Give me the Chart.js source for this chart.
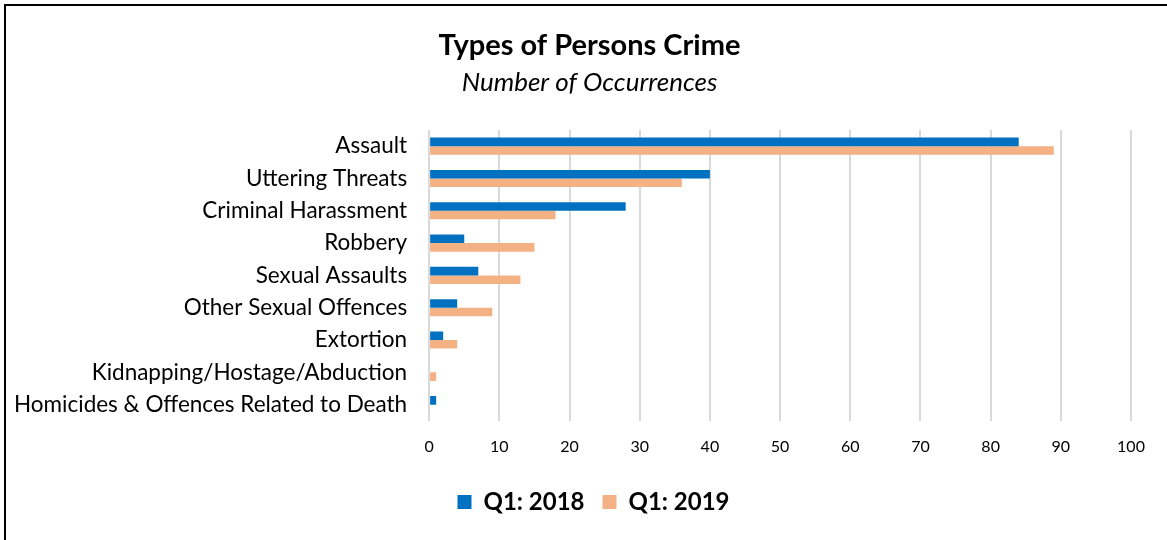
<!DOCTYPE html>
<html>
<head>
<meta charset="utf-8">
<script src="https://cdn.jsdelivr.net/npm/chart.js@4.4.1/dist/chart.umd.min.js"></script>
<style>
  html, body { margin: 0; padding: 0; background: #fff; overflow: hidden; }
  #frame {
    position: absolute; left: 4px; top: 4px;
    width: 1180px; height: 560px;
    border: 2px solid #000; box-sizing: border-box;
  }
  #wrap { position: absolute; left: 0; top: 0; width: 1167px; height: 540px; }
</style>
</head>
<body>
<div id="frame"></div>
<div id="wrap"><canvas id="myChart"></canvas></div>
<script>
const categories = [
  "Assault",
  "Uttering Threats",
  "Criminal Harassment",
  "Robbery",
  "Sexual Assaults",
  "Other Sexual Offences",
  "Extortion",
  "Kidnapping/Hostage/Abduction",
  "Homicides & Offences Related to Death",
];
const q1_2018 = [84, 40, 28, 5, 7, 4, 2, 0, 1];
const q1_2019 = [89, 36, 18, 15, 13, 9, 4, 1, 0];
const seriesNames = ["Q1: 2018", "Q1: 2019"];

const fontFamily = "Lato, 'Open Sans', sans-serif";

// the title and legend sit centred on the framed box, not on the plot
const shiftHeaders = {
  id: "shiftHeaders",
  afterLayout(chart) {
    chart.boxes.forEach((b) => {
      if (b.legendItems) {
        b.left += 28; b.right += 28;
      } else if (b.options && typeof b.options.text === "string") {
        b.left += 24; b.right += 24;
      }
    });
  },
};

const data = {
  labels: categories,
  datasets: [
    {
      label: seriesNames[0],
      data: q1_2018,
      backgroundColor: "#0070C0",
      categoryPercentage: 0.53,
      barPercentage: 1.0,
    },
    {
      label: seriesNames[1],
      data: q1_2019,
      backgroundColor: "#F4B183",
      categoryPercentage: 0.53,
      barPercentage: 1.0,
    },
  ],
};

const config = {
  type: "bar",
  data: data,
  plugins: [shiftHeaders],
  options: {
    indexAxis: "y",
    responsive: false,
    animation: false,
    layout: {
      padding: { left: 0, right: 36, top: 28, bottom: 16 },
    },
    plugins: {
      title: {
        display: true,
        text: "Types of Persons Crime",
        color: "#000",
        font: { family: fontFamily, size: 29, weight: "bold" },
        padding: { top: 0, bottom: 4 },
      },
      subtitle: {
        display: true,
        text: "Number of Occurrences",
        color: "#000",
        font: { family: fontFamily, size: 26, style: "italic" },
        padding: { top: 0, bottom: 32 },
      },
      legend: {
        position: "bottom",
        labels: {
          color: "#000",
          font: { family: fontFamily, size: 24, weight: "bold" },
          boxWidth: 14,
          boxHeight: 14,
          padding: 18,
        },
      },
      tooltip: { enabled: false },
    },
    scales: {
      x: {
        min: 0,
        max: 100,
        ticks: {
          stepSize: 10,
          color: "#000",
          font: { family: fontFamily, size: 16 },
          padding: 16,
        },
        grid: { color: "#d9d9d9", lineWidth: 2, drawTicks: false },
        border: { display: false },
      },
      y: {
        ticks: {
          color: "#000",
          font: { family: fontFamily, size: 22.5 },
          padding: 14,
        },
        grid: { display: false },
        border: { display: false },
      },
    },
  },
};

const canvas = document.getElementById("myChart");
canvas.width = 1167;
canvas.height = 540;
const ctx = canvas.getContext("2d");
const myChart = new Chart(ctx, config);
</script>
</body>
</html>
